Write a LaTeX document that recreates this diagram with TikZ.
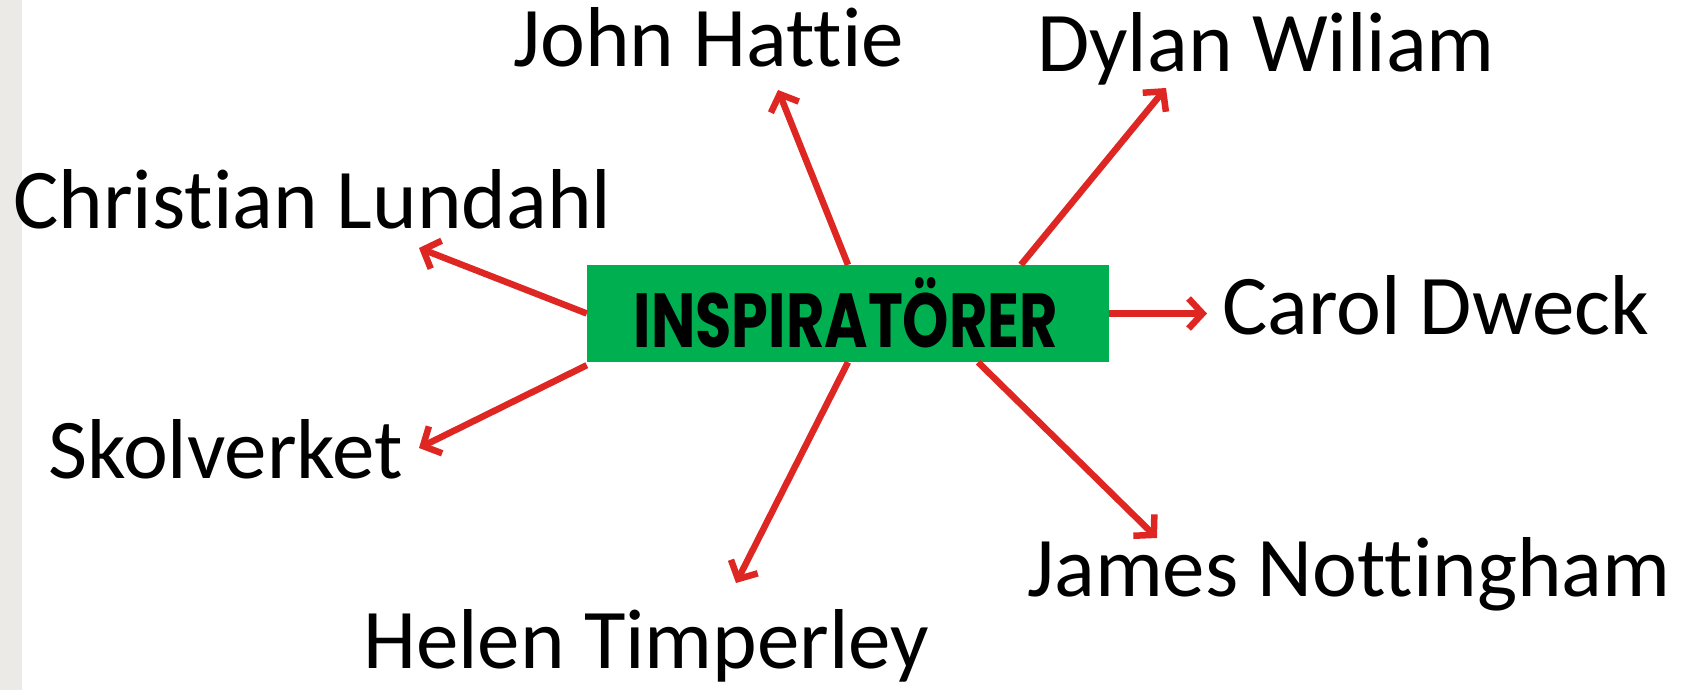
\documentclass[tikz,border=0pt]{standalone}
\usepackage{fontspec}
\usepackage{graphicx}
\setmainfont{Carlito}[Ligatures=NoCommon]
\newfontfamily\pop{Poppins}
\usetikzlibrary{arrows.meta,calc}
\definecolor{boxgreen}{HTML}{00B050}
\definecolor{arrred}{RGB}{222,38,34}
\definecolor{strip}{HTML}{EBEAE6}
\tikzset{
  lbl/.style={anchor=base west,inner sep=0pt,font=\fontsize{85}{100}\selectfont,text=black},
  arr/.style={draw=arrred,line width=6.5pt,-{Straight Barb[length=14pt,width=30pt,line width=6.5pt]}},
  centerbox/.style={fill=boxgreen,minimum width=522pt,minimum height=97pt,inner sep=0pt}
}
\begin{document}
\begin{tikzpicture}[x=1pt,y=-1pt]
\useasboundingbox (0,0) rectangle (1685,690);
\fill[white] (0,0) rectangle (1685,690);
\fill[strip] (0,0) rectangle (22,690);

\node[centerbox] (box) at (848,313.5) {};
\node (title) at (846,313) {\scalebox{1}[1.3]{\resizebox{424pt}{!}{\pop\bfseries\fontsize{68}{68}\selectfont INSPIRATÖRER}}};

\node[lbl] (jh) at (513,67) {John Hattie};
\node[lbl] (dw) at (1037,72) {Dylan Wiliam};
\node[lbl] (cl) at (13,228) {Christian Lundahl};
\node[lbl] (cd) at (1222,334) {Carol Dweck};
\node[lbl] (sk) at (48,478) {Skolverket};
\node[lbl] (ht) at (363,668) {Helen Timperley};
\node[lbl] (jn) at (1027,596) {James Nottingham};

\coordinate (tjh) at (778,90);
\coordinate (tdw) at (1166,88);
\coordinate (tcl) at (419,248);
\coordinate (tcd) at (1207,313.5);
\coordinate (tsk) at (419,448);
\coordinate (tht) at (736,583);
\coordinate (tjn) at (1157,538);

\draw[arr] (box.north) -- (tjh);
\draw[arr] ($(box.north west)!0.831!(box.north east)$) -- (tdw);
\draw[arr] (box.west) -- (tcl);
\draw[arr] (box.east) -- (tcd);
\draw[arr] ([yshift=-3pt]box.south west) -- (tsk);
\draw[arr] (box.south) -- (tht);
\draw[arr] ($(box.south west)!0.749!(box.south east)$) -- (tjn);
\end{tikzpicture}
\end{document}
